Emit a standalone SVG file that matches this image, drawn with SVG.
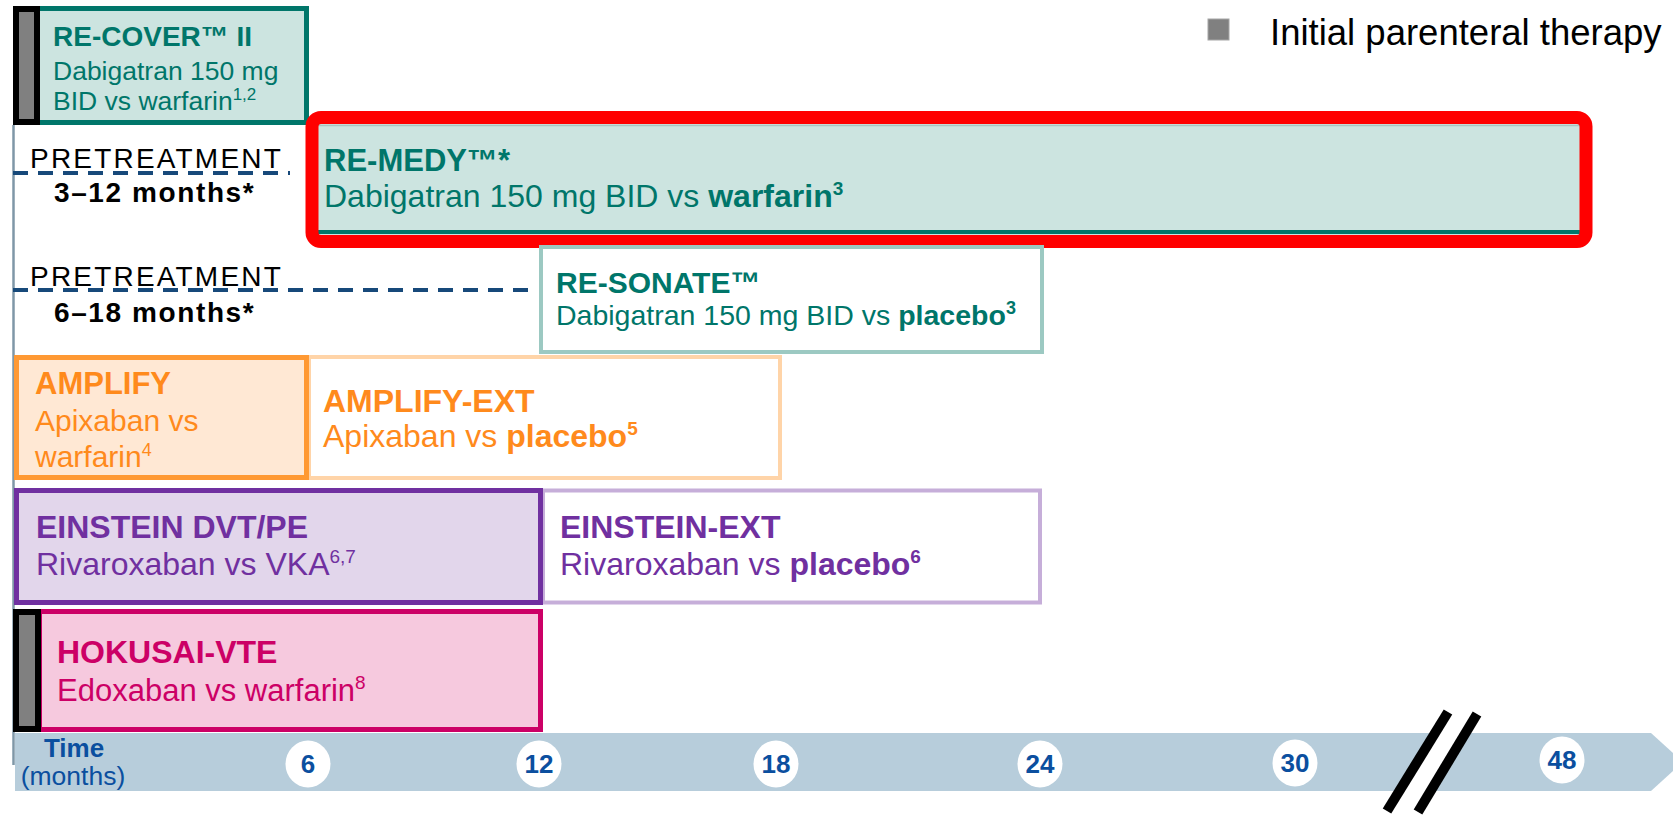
<svg xmlns="http://www.w3.org/2000/svg" width="1673" height="815" viewBox="0 0 1673 815">
<style>
text { font-family: "Liberation Sans", Arial, sans-serif; }
.b { font-weight: bold; }
.teal { fill: #00766a; }
.orange { fill: #ff8a1c; }
.purple { fill: #7030a0; }
.mag { fill: #cc0066; }
.blue { fill: #0b4f9f; }
.pre { font-size: 28px; letter-spacing: 2.2px; fill: #000; }
.mon { font-size: 28px; letter-spacing: 1.6px; font-weight: bold; fill: #000; }
.dash { stroke: #17497a; stroke-width: 4; stroke-dasharray: 15 10; fill: none; }
.bar { fill: #808080; stroke: #000; stroke-width: 6; }
.circ { fill: #fff; }
.num { font-size: 26px; font-weight: bold; fill: #0b4f9f; text-anchor: middle; }
</style>

<g id="legend">
  <rect x="1208" y="19" width="21" height="21" fill="#808080" stroke="#a6a6a6" stroke-width="1"/>
  <text x="1270" y="45" font-size="36.5" fill="#000">Initial parenteral therapy</text>
</g>

<g id="connectors">
  <line x1="13.5" y1="125" x2="13.5" y2="765" stroke="#7f97a7" stroke-width="2.5"/>
  <line class="dash" x1="13" y1="173" x2="290" y2="173"/>
  <line class="dash" x1="13" y1="290" x2="530" y2="290"/>
</g>

<g id="pretreatment-1">
  <text class="pre" x="30" y="168">PRETREATMENT</text>
  <text class="mon" x="54" y="202">3–12 months*</text>
</g>
<g id="pretreatment-2">
  <text class="pre" x="30" y="286">PRETREATMENT</text>
  <text class="mon" x="54" y="322">6–18 months*</text>
</g>

<g id="re-cover">
  <rect x="17.5" y="8.5" width="289" height="114" fill="#cce4e0" stroke="#00766a" stroke-width="5"/>
  <rect class="bar" x="16" y="9" width="21" height="113"/>
  <text class="b teal" x="53" y="46" font-size="28">RE-COVER™ II</text>
  <text class="teal" x="53" y="80" font-size="26.5">Dabigatran 150 mg</text>
  <text class="teal" x="53" y="110" font-size="26.5">BID vs warfarin<tspan font-size="17" dy="-10">1,2</tspan></text>
</g>

<g id="re-medy">
  <rect x="313" y="118" width="1273" height="117" fill="#cce4e0"/>
  <line x1="313" y1="125.5" x2="1586" y2="125.5" stroke="#a9c4c0" stroke-width="1.5"/>
  <line x1="313" y1="232" x2="1586" y2="232" stroke="#00766a" stroke-width="4"/>
  <rect x="312" y="117.5" width="1274" height="124" rx="9" fill="none" stroke="#ff0000" stroke-width="13"/>
  <text class="b teal" x="324" y="171" font-size="31">RE-MEDY™*</text>
  <text class="teal" x="324" y="207" font-size="32">Dabigatran 150 mg BID vs <tspan class="b">warfarin</tspan><tspan class="b" font-size="19" dy="-12">3</tspan></text>
</g>

<g id="re-sonate">
  <rect x="541" y="247" width="501" height="105" fill="#fff" stroke="#9cc9c2" stroke-width="4"/>
  <text class="b teal" x="556" y="293" font-size="30">RE-SONATE™</text>
  <text class="teal" x="556" y="325" font-size="28.5">Dabigatran 150 mg BID vs <tspan class="b">placebo</tspan><tspan class="b" font-size="18" dy="-11">3</tspan></text>
</g>

<g id="amplify-ext">
  <rect x="309" y="357" width="471" height="121" fill="#fff" stroke="#ffd4a8" stroke-width="4"/>
  <text class="b orange" x="323" y="412" font-size="32">AMPLIFY-EXT</text>
  <text class="orange" x="323" y="447" font-size="32">Apixaban vs <tspan class="b">placebo</tspan><tspan class="b" font-size="19" dy="-12">5</tspan></text>
</g>

<g id="amplify">
  <rect x="16.5" y="357.5" width="290" height="120" fill="#ffe8d4" stroke="#ff9933" stroke-width="5"/>
  <text class="b orange" x="35" y="394" font-size="31">AMPLIFY</text>
  <text class="orange" x="35" y="431" font-size="30">Apixaban vs</text>
  <text class="orange" x="35" y="467" font-size="30">warfarin<tspan font-size="18" dy="-11">4</tspan></text>
</g>

<g id="einstein-ext">
  <rect x="543" y="490.5" width="497" height="112" fill="#fff" stroke="#c6aed9" stroke-width="4"/>
  <text class="b purple" x="560" y="538" font-size="32">EINSTEIN-EXT</text>
  <text class="purple" x="560" y="575" font-size="32">Rivaroxaban vs <tspan class="b">placebo</tspan><tspan class="b" font-size="19" dy="-12">6</tspan></text>
</g>

<g id="einstein-dvt-pe">
  <rect x="16.5" y="490.5" width="524" height="112" fill="#e2d6eb" stroke="#7030a0" stroke-width="5"/>
  <text class="b purple" x="36" y="538" font-size="32">EINSTEIN DVT/PE</text>
  <text class="purple" x="36" y="575" font-size="32">Rivaroxaban vs VKA<tspan font-size="19" dy="-12">6,7</tspan></text>
</g>

<g id="hokusai-vte">
  <rect x="39.5" y="611.5" width="501" height="118" fill="#f6c9de" stroke="#cc0066" stroke-width="5"/>
  <rect class="bar" x="16" y="612" width="22" height="117"/>
  <text class="b mag" x="57" y="663" font-size="32">HOKUSAI-VTE</text>
  <text class="mag" x="57" y="701" font-size="31">Edoxaban vs warfarin<tspan font-size="19" dy="-12">8</tspan></text>
</g>

<g id="time-axis">
  <polygon points="15,733 1651,733 1683,762 1651,791 15,791" fill="#b7cddb"/>
  <text class="b blue" x="74" y="757" font-size="26" text-anchor="middle">Time</text>
  <text class="blue" x="73" y="785" font-size="26.5" text-anchor="middle">(months)</text>
  <ellipse class="circ" cx="308" cy="764" rx="22.5" ry="23.5"/>
  <text class="num" x="308" y="773">6</text>
  <ellipse class="circ" cx="539" cy="764" rx="22.5" ry="23.5"/>
  <text class="num" x="539" y="773">12</text>
  <ellipse class="circ" cx="776" cy="764" rx="22.5" ry="23.5"/>
  <text class="num" x="776" y="773">18</text>
  <ellipse class="circ" cx="1040" cy="764" rx="22.5" ry="23.5"/>
  <text class="num" x="1040" y="773">24</text>
  <ellipse class="circ" cx="1295" cy="763" rx="22.5" ry="23.5"/>
  <text class="num" x="1295" y="772">30</text>
  <ellipse class="circ" cx="1562" cy="760" rx="22.5" ry="23.5"/>
  <text class="num" x="1562" y="769">48</text>
</g>

<g id="axis-break">
  <line x1="1403" y1="811" x2="1463" y2="713" stroke="#fff" stroke-width="20"/>
  <line x1="1387" y1="811" x2="1448" y2="712" stroke="#000" stroke-width="10"/>
  <line x1="1418" y1="812" x2="1477" y2="714" stroke="#000" stroke-width="10"/>
</g>
</svg>
